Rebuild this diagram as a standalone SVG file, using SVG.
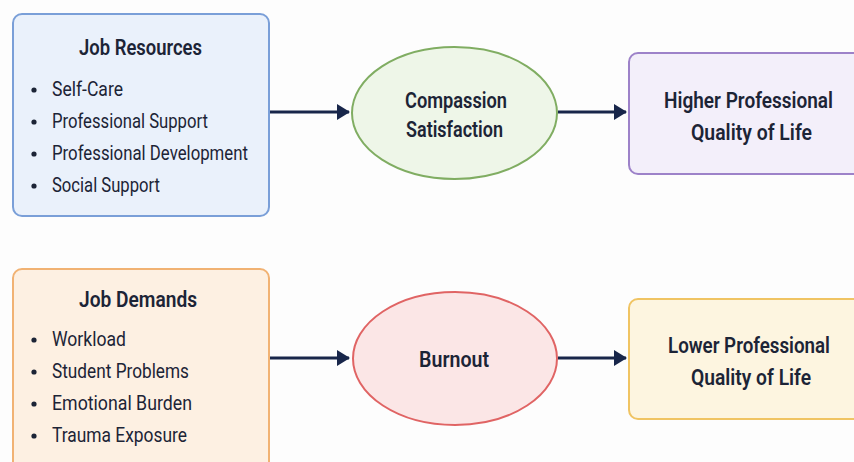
<svg xmlns="http://www.w3.org/2000/svg" width="854" height="462" viewBox="0 0 854 462">
<style>
text{font-family:Roboto,"Liberation Sans",sans-serif;fill:#1c2436;}
.t{font-size:22px;font-weight:600;}
.i{font-size:21px;font-weight:400;}
.c{font-size:22px;font-weight:600;text-anchor:start;}
.conn{stroke:#18264a;stroke-width:3;fill:none;}
</style>
<defs>
<marker id="ah" viewBox="0 0 13 16" refX="12" refY="8" markerWidth="13" markerHeight="16" markerUnits="userSpaceOnUse" orient="auto">
<path d="M0,0 L13,8 L0,16 Z" fill="#18264a"/>
</marker>
</defs>
<rect width="854" height="462" fill="#fdfdfd"/>
<g id="job-resources">
<rect x="13" y="14" width="256" height="202" rx="9" fill="#eaf1fb" stroke="#7a9fd8" stroke-width="2"/>
<text class="t" x="79" y="55" textLength="123" lengthAdjust="spacingAndGlyphs">Job Resources</text>
<circle cx="34" cy="90" r="2.6" fill="#1c2436"/>
<circle cx="34" cy="122" r="2.6" fill="#1c2436"/>
<circle cx="34" cy="154" r="2.6" fill="#1c2436"/>
<circle cx="34" cy="186" r="2.6" fill="#1c2436"/>
<text class="i" x="52" y="96" textLength="71" lengthAdjust="spacingAndGlyphs">Self-Care</text>
<text class="i" x="52" y="128" textLength="156" lengthAdjust="spacingAndGlyphs">Professional Support</text>
<text class="i" x="52" y="160" textLength="196" lengthAdjust="spacingAndGlyphs">Professional Development</text>
<text class="i" x="52" y="192" textLength="108" lengthAdjust="spacingAndGlyphs">Social Support</text>
</g>
<g id="compassion-satisfaction">
<ellipse cx="454.5" cy="113" rx="102.5" ry="66" fill="#eef6e8" stroke="#80ad62" stroke-width="2"/>
<text class="c" x="405" y="108" textLength="102" lengthAdjust="spacingAndGlyphs">Compassion</text>
<text class="c" x="406" y="137" textLength="97" lengthAdjust="spacingAndGlyphs">Satisfaction</text>
</g>
<g id="higher-qol">
<rect x="629" y="53" width="240" height="121" rx="9" fill="#f3effa" stroke="#9d82c9" stroke-width="2"/>
<text class="c" x="664" y="108" textLength="169" lengthAdjust="spacingAndGlyphs">Higher Professional</text>
<text class="c" x="691" y="140" textLength="121" lengthAdjust="spacingAndGlyphs">Quality of Life</text>
</g>
<g id="job-demands">
<rect x="13" y="269" width="256" height="210" rx="9" fill="#fdf0e2" stroke="#f1b273" stroke-width="2"/>
<text class="t" x="79" y="307" textLength="118" lengthAdjust="spacingAndGlyphs">Job Demands</text>
<circle cx="34" cy="340" r="2.6" fill="#1c2436"/>
<circle cx="34" cy="372" r="2.6" fill="#1c2436"/>
<circle cx="34" cy="404" r="2.6" fill="#1c2436"/>
<circle cx="34" cy="436" r="2.6" fill="#1c2436"/>
<text class="i" x="52" y="346" textLength="74" lengthAdjust="spacingAndGlyphs">Workload</text>
<text class="i" x="52" y="378" textLength="137" lengthAdjust="spacingAndGlyphs">Student Problems</text>
<text class="i" x="52" y="410" textLength="140" lengthAdjust="spacingAndGlyphs">Emotional Burden</text>
<text class="i" x="52" y="442" textLength="135" lengthAdjust="spacingAndGlyphs">Trauma Exposure</text>
</g>
<g id="burnout">
<ellipse cx="455" cy="358.5" rx="102" ry="66.5" fill="#fbe6e6" stroke="#e06464" stroke-width="2"/>
<text class="c" x="419" y="367" textLength="70" lengthAdjust="spacingAndGlyphs">Burnout</text>
</g>
<g id="lower-qol">
<rect x="629" y="299" width="240" height="120" rx="9" fill="#fdf5e0" stroke="#f0c463" stroke-width="2"/>
<text class="c" x="668" y="353" textLength="162" lengthAdjust="spacingAndGlyphs">Lower Professional</text>
<text class="c" x="691" y="385" textLength="120" lengthAdjust="spacingAndGlyphs">Quality of Life</text>
</g>
<g id="connectors">
<line class="conn" x1="270" y1="112" x2="349" y2="112" marker-end="url(#ah)"/>
<line class="conn" x1="558" y1="112" x2="626" y2="112" marker-end="url(#ah)"/>
<line class="conn" x1="270" y1="358" x2="349" y2="358" marker-end="url(#ah)"/>
<line class="conn" x1="558" y1="358" x2="626" y2="358" marker-end="url(#ah)"/>
</g>
</svg>
